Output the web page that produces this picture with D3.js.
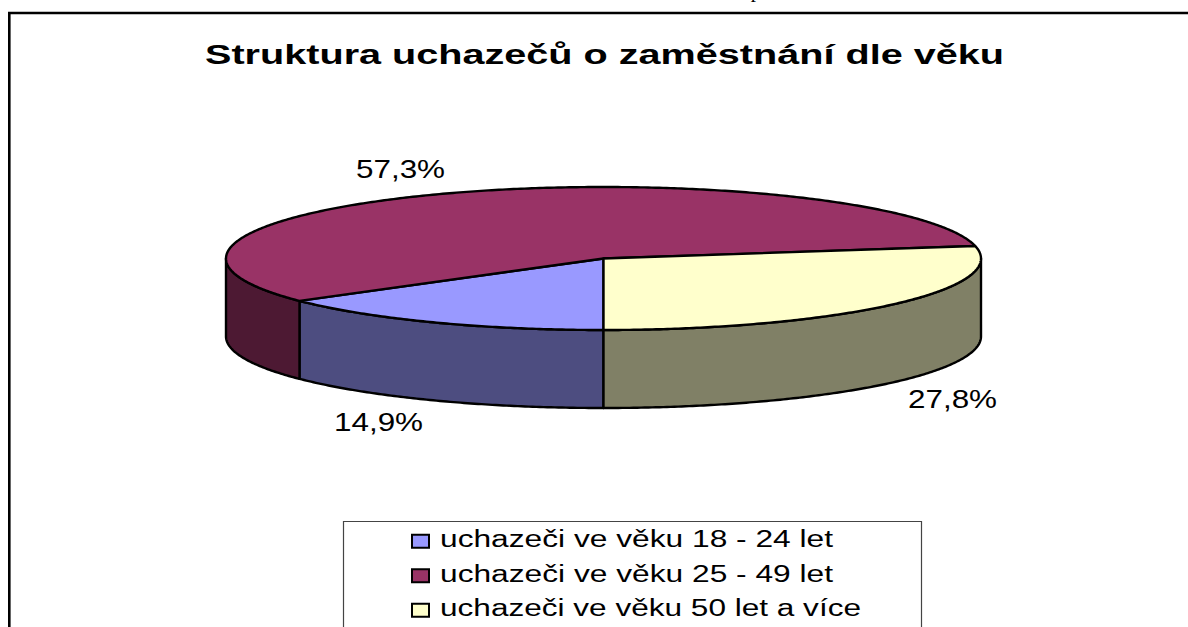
<!DOCTYPE html>
<html>
<head>
<meta charset="utf-8">
<script src="https://cdnjs.cloudflare.com/ajax/libs/d3/7.8.5/d3.min.js"></script>
<style>
  html, body { margin: 0; padding: 0; background: #fff; overflow: hidden; }
  text { font-family: "Liberation Sans", Arial, sans-serif; fill: #000; }
</style>
</head>
<body>
<div id="chart"></div>
<script>
const categories = ['uchazeči ve věku 18 - 24 let', 'uchazeči ve věku 25 - 49 let', 'uchazeči ve věku 50 let a více']
const values = [14.9, 57.3, 27.8]
const valueLabels = ['14,9%', '57,3%', '27,8%']
const topColors = ['#9999ff', '#993366', '#ffffcc']
const sideColors = ['#4d4d80', '#4d1933', '#808066']
const chartTitle = 'Struktura uchazečů o zaměstnání dle věku'

const width = 1188
const height = 627

const svg = d3
  .select('#chart')
  .append('svg')
  .attr('width', width)
  .attr('height', height)

// The tilted pie: unit circle mapped onto the ellipse
const xScale = d3.scaleLinear().domain([-1, 1]).range([226, 981])
const yScale = d3.scaleLinear().domain([-1, 1]).range([187, 330])
const depth = 78

const pie = d3
  .pie()
  .sort(null)
  .startAngle(Math.PI)
  .endAngle(3 * Math.PI)

const slices = pie(values)

const px = a => xScale(Math.sin(a))
const py = a => yScale(-Math.cos(a))

const line = d3.line()

function arcPoints(a0, a1, dy) {
  const n = Math.max(2, Math.ceil(Math.abs(a1 - a0) / 0.01))
  return d3.range(n + 1).map(i => {
    const a = a0 + ((a1 - a0) * i) / n
    return [px(a), py(a) + dy]
  })
}

// page frame: left side and top only, cut off by the picture
svg
  .append('path')
  .attr('d', 'M9.3,' + (height + 5) + 'V13H' + (width + 5))
  .attr('fill', 'none')
  .attr('stroke', '#000')
  .attr('stroke-width', 2.6)

// clipped line of text above the frame
svg
  .append('text')
  .attr('x', 756)
  .attr('y', -3)
  .attr('text-anchor', 'middle')
  .style('font-family', '"Liberation Serif", serif')
  .style('font-size', '21px')
  .text('p')

svg
  .append('text')
  .attr('x', 205)
  .attr('y', 64)
  .attr('textLength', 799)
  .attr('lengthAdjust', 'spacingAndGlyphs')
  .style('font-weight', 'bold')
  .style('font-size', '28px')
  .text(chartTitle)

const pieGroup = svg.append('g')

// side walls, only the part facing the viewer (between 90 and 270 degrees)
const walls = slices
  .map((d, i) => ({
    i: i,
    a0: Math.max(d.startAngle, Math.PI / 2),
    a1: Math.min(d.endAngle, (3 * Math.PI) / 2)
  }))
  .concat(
    slices.map((d, i) => ({
      i: i,
      a0: Math.max(d.startAngle - 2 * Math.PI, Math.PI / 2),
      a1: Math.min(d.endAngle - 2 * Math.PI, (3 * Math.PI) / 2)
    }))
  )
  .filter(d => d.a1 > d.a0)

pieGroup
  .selectAll('path.wall')
  .data(walls)
  .enter()
  .append('path')
  .attr('class', 'wall')
  .attr('fill', d => sideColors[d.i])
  .attr('stroke', '#000')
  .attr('stroke-width', 2.4)
  .attr('stroke-linejoin', 'round')
  .attr('d', d => {
    const pts = arcPoints(d.a0, d.a1, 0).concat(arcPoints(d.a1, d.a0, depth))
    return line(pts) + 'Z'
  })

pieGroup
  .selectAll('path.top')
  .data(slices)
  .enter()
  .append('path')
  .attr('class', 'top')
  .attr('fill', (d, i) => topColors[i])
  .attr('stroke', '#000')
  .attr('stroke-width', 2.4)
  .attr('stroke-linejoin', 'round')
  .attr('d', d => {
    const pts = [[xScale(0), yScale(0)]].concat(arcPoints(d.startAngle, d.endAngle, 0))
    return line(pts) + 'Z'
  })

// value labels
const labelPos = [[334, 431], [356, 178], [908, 408]]
svg
  .selectAll('text.value')
  .data(valueLabels)
  .enter()
  .append('text')
  .attr('class', 'value')
  .attr('x', (d, i) => labelPos[i][0])
  .attr('y', (d, i) => labelPos[i][1])
  .attr('textLength', 89)
  .attr('lengthAdjust', 'spacingAndGlyphs')
  .style('font-size', '25px')
  .text(d => d)

// legend
const legendX = 343.5
const legendTop = 521.5
const legendRight = 921.5

svg
  .append('path')
  .attr('d', 'M' + legendX + ',' + (height + 5) + 'V' + legendTop + 'H' + legendRight + 'V' + (height + 5))
  .attr('fill', '#fff')
  .attr('stroke', '#444')
  .attr('stroke-width', 1.2)

const legendY = d3.scaleBand().domain(categories).range([522.5, 626])
const legendLengths = [393, 393, 421]

const legend = svg
  .selectAll('g.legend')
  .data(categories)
  .enter()
  .append('g')
  .attr('class', 'legend')
  .attr('transform', d => 'translate(0,' + (legendY(d) + legendY.bandwidth() / 2) + ')')

legend
  .append('rect')
  .attr('x', 412)
  .attr('y', -5)
  .attr('width', 17)
  .attr('height', 13)
  .attr('fill', (d, i) => topColors[i])
  .attr('stroke', '#000')
  .attr('stroke-width', 2)

legend
  .append('text')
  .attr('x', 440)
  .attr('y', 7.5)
  .attr('textLength', (d, i) => legendLengths[i])
  .attr('lengthAdjust', 'spacingAndGlyphs')
  .style('font-size', '23.5px')
  .text(d => d)
</script>
</body>
</html>
